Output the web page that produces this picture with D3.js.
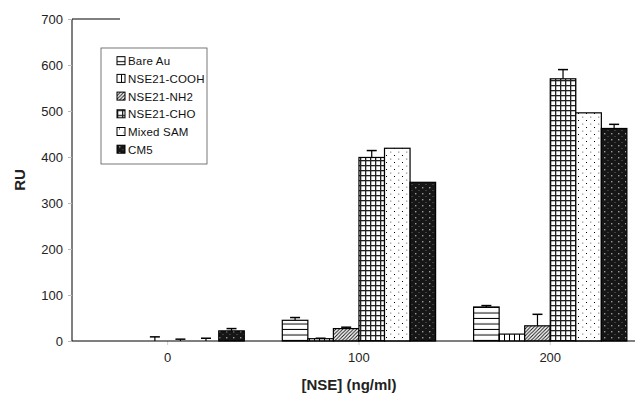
<!DOCTYPE html>
<html>
<head>
<meta charset="utf-8">
<script src="https://cdn.jsdelivr.net/npm/d3@7"></script>
<style>
  html, body { margin: 0; padding: 0; background: #fff; }
  svg { display: block; font-family: Arial, "Liberation Sans", sans-serif; }
</style>
</head>
<body>
<div id="chart"></div>
<script>
// concentrations on the x axis
const categories = ["0", "100", "200"]
const seriesNames = ["Bare Au", "NSE21-COOH", "NSE21-NH2", "NSE21-CHO", "Mixed SAM", "CM5"]
const yTicks = [0, 100, 200, 300, 400, 500, 600, 700]

// RU response per concentration
const bareAu = [0, 45, 74]
const cooh = [0, 5, 15]
const nh2 = [0, 27, 33]
const cho = [0, 399, 570]
const mixedSam = [0, 419, 496]
const cm5 = [22, 345, 462]

// error bar (upper) per concentration
const bareAuErr = [0, 6, 3]
const coohErr = [0, 1, 0]
const nh2Err = [9, 3, 25]
const choErr = [4, 15, 20]
const mixedSamErr = [6, 0, 0]
const cm5Err = [5, 0, 9]

const seriesValues = [bareAu, cooh, nh2, cho, mixedSam, cm5]
const seriesErrors = [bareAuErr, coohErr, nh2Err, choErr, mixedSamErr, cm5Err]
const patternIds = ["p-horiz", "p-vert", "p-diag", "p-grid", "p-dots", "p-dark"]

const width = 635, height = 396
const margin = {top: 19, left: 72, bottom: 55}

const svg = d3.select("#chart").append("svg")
    .attr("width", width)
    .attr("height", height)

// fill patterns
const defs = svg.append("defs")

let p = defs.append("pattern").attr("id", "p-horiz")
    .attr("patternUnits", "userSpaceOnUse").attr("width", 6).attr("height", 5.5)
p.append("rect").attr("width", 6).attr("height", 5.5).attr("fill", "#fff")
p.append("rect").attr("y", 4.5).attr("width", 6).attr("height", 1).attr("fill", "#000")

p = defs.append("pattern").attr("id", "p-vert")
    .attr("patternUnits", "userSpaceOnUse").attr("width", 5).attr("height", 6)
p.append("rect").attr("width", 5).attr("height", 6).attr("fill", "#fff")
p.append("rect").attr("x", 4).attr("width", 1).attr("height", 6).attr("fill", "#000")

p = defs.append("pattern").attr("id", "p-diag")
    .attr("patternUnits", "userSpaceOnUse").attr("width", 3.5).attr("height", 3.5)
p.append("rect").attr("width", 3.5).attr("height", 3.5).attr("fill", "#fff")
p.append("path").attr("d", "M-1,4.5 L4.5,-1 M-1,1 L1,-1 M2.5,4.5 L4.5,2.5")
    .attr("stroke", "#111").attr("stroke-width", 1)

p = defs.append("pattern").attr("id", "p-grid")
    .attr("patternUnits", "userSpaceOnUse").attr("width", 5).attr("height", 5)
p.append("rect").attr("width", 5).attr("height", 5).attr("fill", "#fff")
p.append("rect").attr("width", 5).attr("height", 1.3).attr("fill", "#222")
p.append("rect").attr("width", 1.3).attr("height", 5).attr("fill", "#222")

p = defs.append("pattern").attr("id", "p-dots")
    .attr("patternUnits", "userSpaceOnUse").attr("width", 8).attr("height", 7)
p.append("rect").attr("width", 8).attr("height", 7).attr("fill", "#fff")
p.append("rect").attr("x", 2).attr("y", 1).attr("width", 1).attr("height", 1).attr("fill", "#000")
p.append("rect").attr("x", 6).attr("y", 4.5).attr("width", 1.3).attr("height", 1.3).attr("fill", "#999")

p = defs.append("pattern").attr("id", "p-dark")
    .attr("patternUnits", "userSpaceOnUse").attr("width", 7).attr("height", 6)
p.append("rect").attr("width", 7).attr("height", 6).attr("fill", "#161616")
p.append("rect").attr("x", 2).attr("y", 1).attr("width", 1.4).attr("height", 1.4).attr("fill", "#9a9a9a")
p.append("rect").attr("x", 5.5).attr("y", 4).attr("width", 1).attr("height", 1).attr("fill", "#666")

// scales
const x0 = d3.scaleBand()
    .domain(categories)
    .range([margin.left, margin.left + 3 * 191.3])
    .paddingInner(0)
    .paddingOuter(0)

const y = d3.scaleLinear()
    .domain([0, 700])
    .range([height - margin.bottom, margin.top])

// groups of bars, inset on each side of the category band
const inset = 19
const barW = (x0.bandwidth() - 2 * inset) / seriesNames.length
const barX = (cat, s) => x0(cat) + inset + s * barW

// faint category ticks below the axis
svg.append("g")
  .selectAll("line")
  .data(categories)
  .join("line")
    .attr("x1", d => x0(d) + x0.bandwidth() / 2)
    .attr("x2", d => x0(d) + x0.bandwidth() / 2)
    .attr("y1", y(0))
    .attr("y2", y(0) + 4)
    .attr("stroke", "#ccc")

// bars
seriesNames.forEach((name, s) => {
  const rows = categories.map((c, i) => ({c, v: seriesValues[s][i], e: seriesErrors[s][i]}))
  const g = svg.append("g").attr("class", "series")
  g.selectAll("rect")
    .data(rows)
    .join("rect")
      .attr("x", d => barX(d.c, s))
      .attr("y", d => y(d.v))
      .attr("width", barW)
      .attr("height", d => y(0) - y(d.v))
      .attr("fill", `url(#${patternIds[s]})`)
      .attr("stroke", d => d.v > 0 ? "#000" : "none")
      .attr("stroke-width", 1.2)

  // upper error bars
  const eb = g.selectAll("g.err")
    .data(rows.filter(d => d.e > 0))
    .join("g").attr("class", "err")
  eb.append("line")
      .attr("x1", d => barX(d.c, s) + barW / 2)
      .attr("x2", d => barX(d.c, s) + barW / 2)
      .attr("y1", d => y(d.v))
      .attr("y2", d => y(d.v + d.e))
      .attr("stroke", "#000")
      .attr("stroke-width", 1.2)
  eb.append("line")
      .attr("x1", d => barX(d.c, s) + barW / 2 - 5)
      .attr("x2", d => barX(d.c, s) + barW / 2 + 5)
      .attr("y1", d => y(d.v + d.e))
      .attr("y2", d => y(d.v + d.e))
      .attr("stroke", "#000")
      .attr("stroke-width", 1.5)
})

// y axis
const yAxis = svg.append("g")
    .attr("transform", `translate(${margin.left},0)`)
    .call(d3.axisLeft(y).tickValues(yTicks).tickSize(4).tickPadding(5))
yAxis.select(".domain").attr("stroke", "#000").attr("d", `M0,${y(0)}V${y(700)}H48`)
yAxis.selectAll(".tick line").attr("stroke", "#bbb")
yAxis.selectAll(".tick text")
    .attr("font-size", 13)
    .attr("fill", "#222")

// x axis line
svg.append("line")
    .attr("x1", margin.left).attr("x2", width)
    .attr("y1", y(0)).attr("y2", y(0))
    .attr("stroke", "#000").attr("stroke-width", 1.2)

// x tick labels
svg.append("g")
  .selectAll("text")
  .data(categories)
  .join("text")
    .attr("x", d => x0(d) + x0.bandwidth() / 2)
    .attr("y", y(0) + 21)
    .attr("text-anchor", "middle")
    .attr("font-size", 13)
    .attr("fill", "#222")
    .text(d => d)

// axis titles
svg.append("text")
    .attr("transform", `translate(25,${(y(0) + y(700)) / 2}) rotate(-90)`)
    .attr("text-anchor", "middle")
    .attr("font-size", 15)
    .attr("font-weight", "bold")
    .attr("fill", "#222")
    .text("RU")

svg.append("text")
    .attr("x", 349)
    .attr("y", 390)
    .attr("text-anchor", "middle")
    .attr("font-size", 15)
    .attr("font-weight", "bold")
    .attr("fill", "#222")
    .text("[NSE] (ng/ml)")

// legend
const legend = svg.append("g").attr("transform", "translate(101,48)")
legend.append("rect")
    .attr("width", 106).attr("height", 116)
    .attr("fill", "#fff")
    .attr("stroke", "#555").attr("stroke-width", 0.8)
const item = legend.selectAll("g.item")
  .data(seriesNames)
  .join("g").attr("class", "item")
    .attr("transform", (d, i) => `translate(16,${8.7 + i * 17.7})`)
item.append("rect")
    .attr("width", 8).attr("height", 8)
    .attr("fill", (d, i) => `url(#${patternIds[i]})`)
    .attr("stroke", "#000").attr("stroke-width", 1)
item.append("text")
    .attr("x", 11).attr("y", 8.5)
    .attr("font-size", 11.5)
    .attr("letter-spacing", 0.2)
    .attr("fill", "#111")
    .text(d => d)
</script>
</body>
</html>
